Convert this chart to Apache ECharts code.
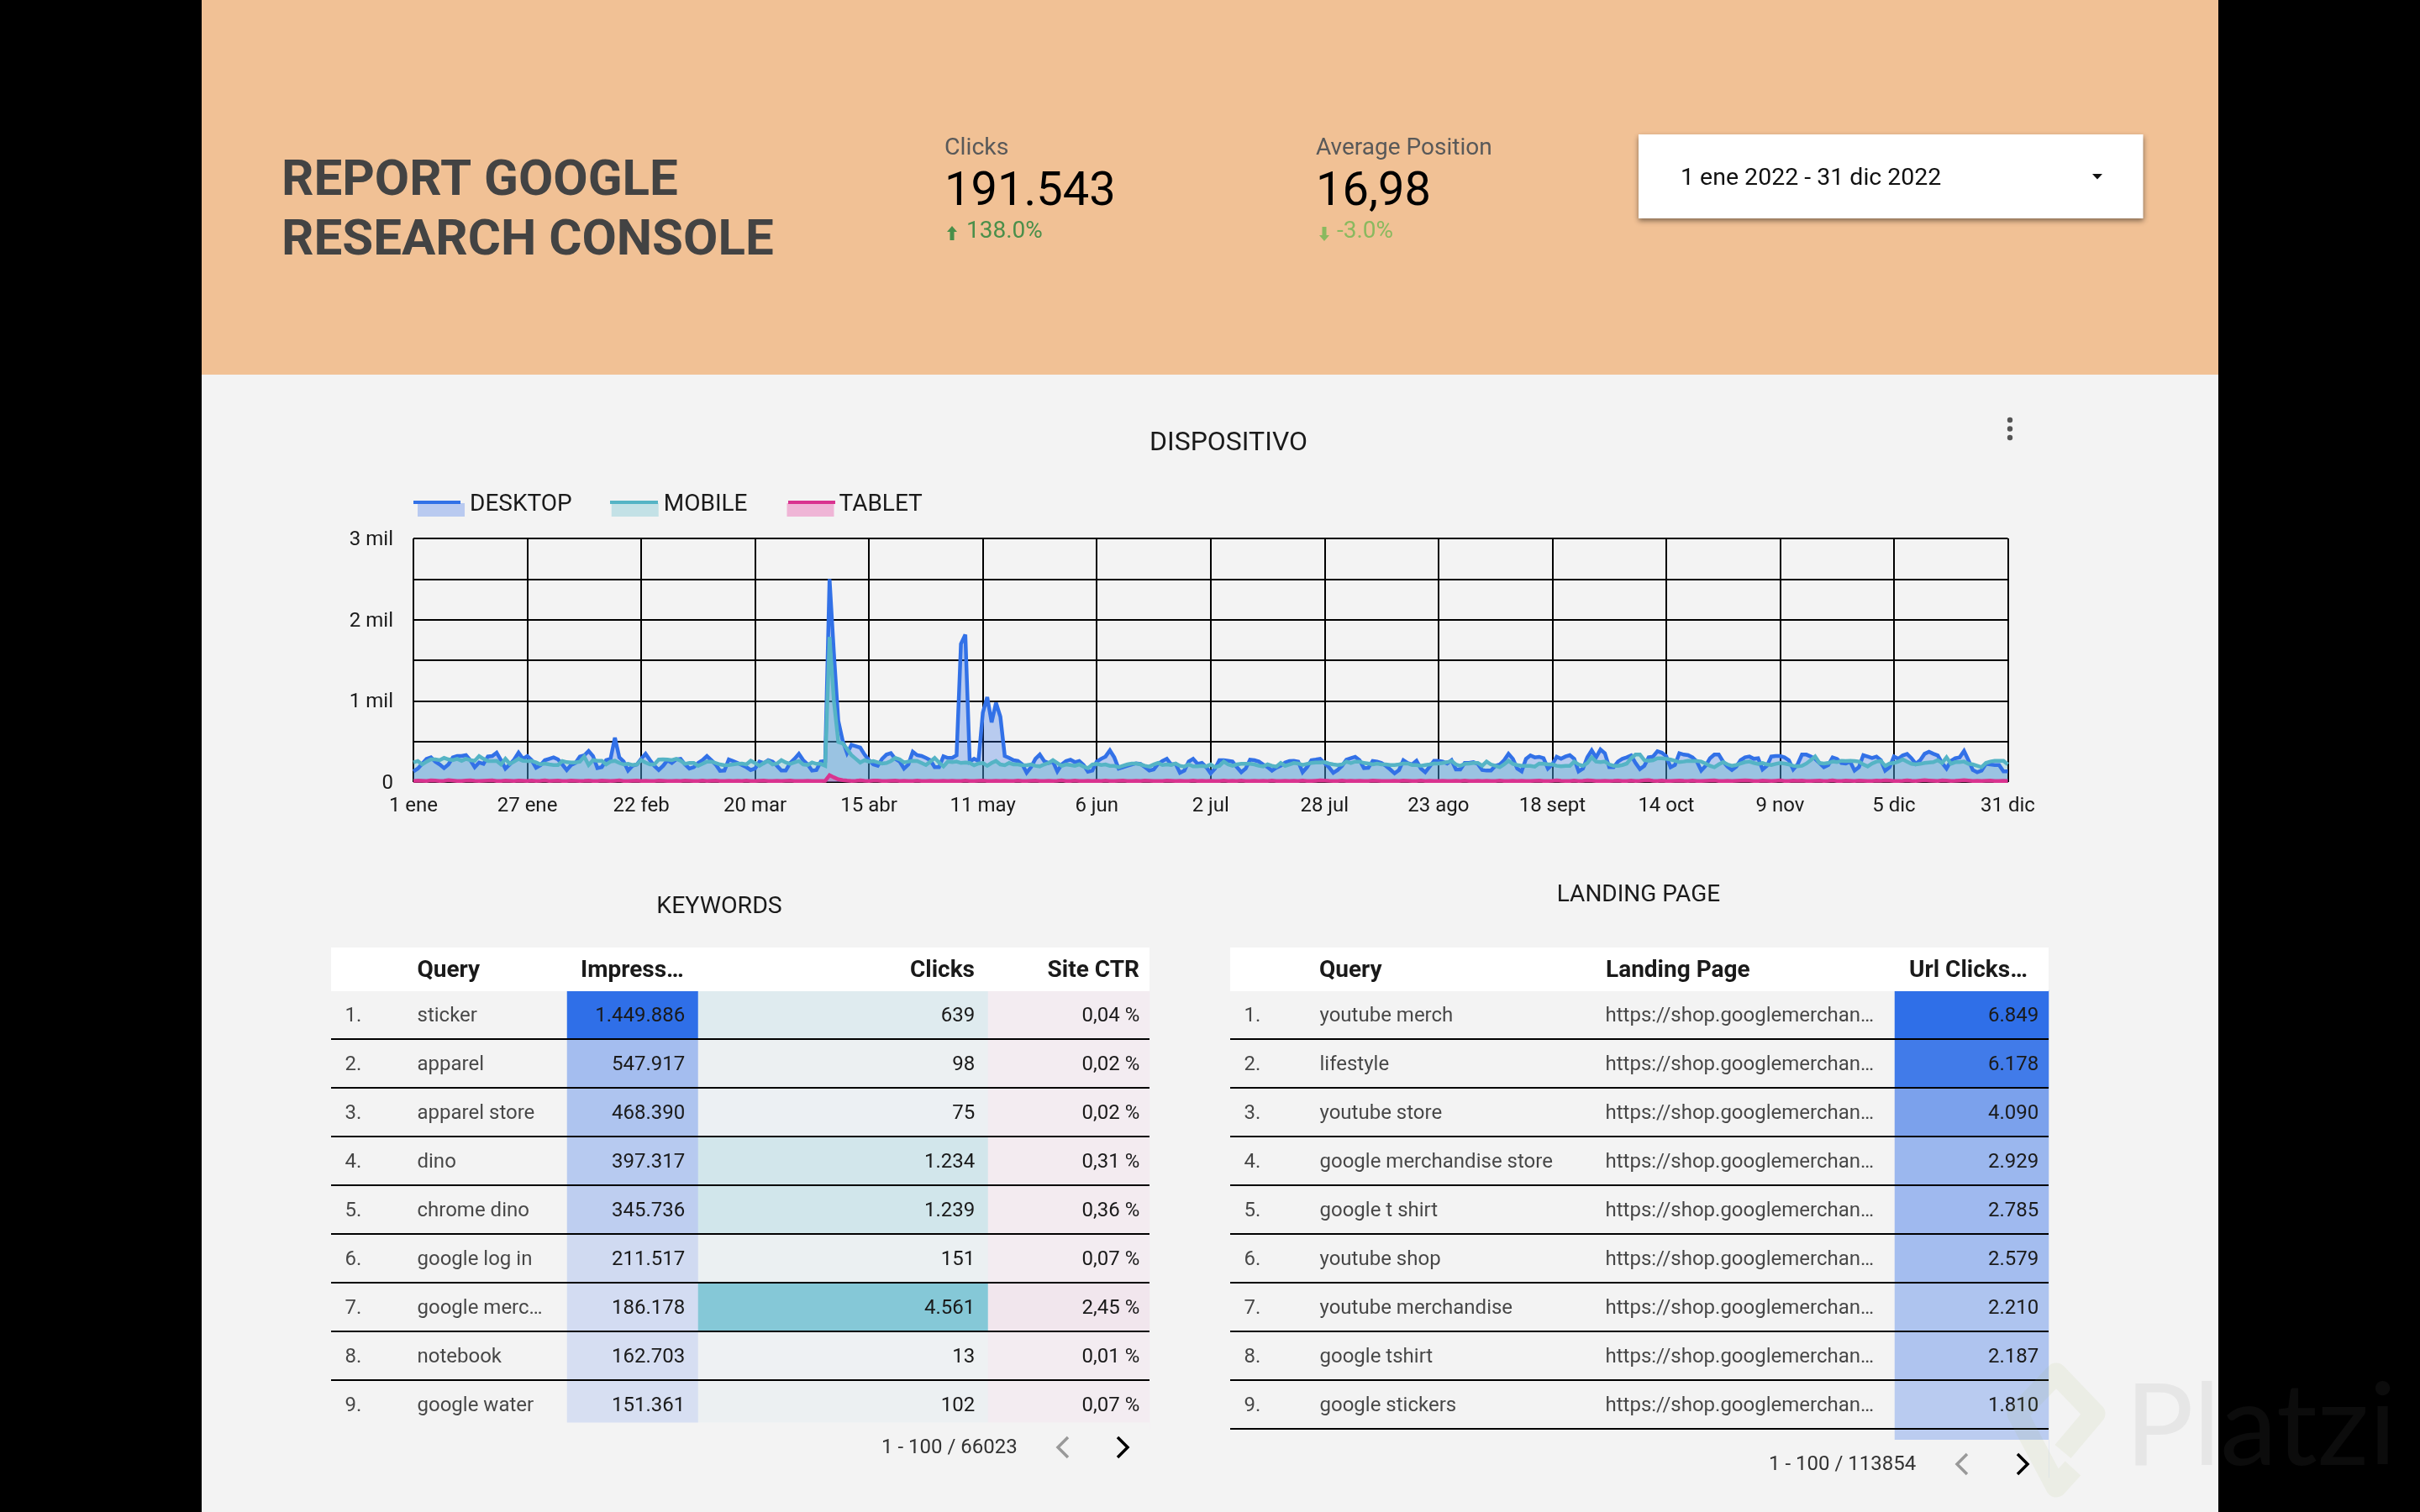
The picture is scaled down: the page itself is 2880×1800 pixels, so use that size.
<!DOCTYPE html>
<html>
<head>
<meta charset="utf-8">
<title>Report Google Research Console</title>
<script src="https://cdn.jsdelivr.net/npm/echarts@6/dist/echarts.min.js"></script>
<style>
html,body{margin:0;padding:0;background:#000}
#main{width:2880px;height:1800px}
</style>
</head>
<body>
<div id="main"></div>
<script>
// daily clicks per device
var desktop = [
131,166,224,286,304,252,217,172,217,304,320,320,331,269,183,241,224,314,320,362,
269,166,217,276,362,286,320,269,176,207,269,286,304,279,217,148,210,235,314,328,
383,320,172,183,269,286,545,304,252,141,200,217,286,348,270,200,148,200,269,235,
279,286,217,166,183,235,269,320,269,217,138,141,279,259,235,210,183,148,166,252,
235,269,252,200,141,141,235,286,348,269,217,141,148,252,259,2500,1580,752,510,355,
459,441,424,338,269,217,200,286,338,355,286,252,166,217,373,331,321,297,269,183,
183,317,297,297,328,1700,1815,252,286,259,855,1045,735,976,804,321,297,269,259,217,
114,183,286,338,259,235,252,131,217,259,276,245,259,210,128,141,252,286,314,390,
304,166,183,200,217,231,224,183,141,155,224,259,286,217,224,114,141,252,286,224,
235,183,107,166,269,269,262,252,183,121,166,276,269,252,217,183,141,176,200,241,
259,262,252,121,183,269,276,286,235,183,114,148,200,276,293,311,269,172,176,259,
252,235,200,155,107,148,269,235,217,262,166,121,190,262,262,252,228,269,155,155,
235,235,245,224,148,141,141,200,217,269,348,286,166,131,286,328,304,311,293,166,
217,311,286,314,331,286,131,166,304,390,304,400,355,183,183,252,286,304,328,235,
159,200,304,314,380,362,320,183,210,355,338,331,304,252,141,200,293,338,338,252,
190,148,190,269,304,314,286,293,155,200,314,320,320,304,269,155,217,338,338,314,
286,235,183,210,304,286,235,228,252,141,183,331,314,297,314,269,141,183,314,286,
328,345,293,224,269,348,373,348,328,235,166,259,293,304,383,269,148,121,141,224,
217,210,210,131,131
];
var mobile = [
241,259,217,252,279,279,269,297,279,269,286,262,286,269,262,320,286,259,259,262,
217,286,224,252,286,262,259,259,241,217,228,217,210,210,259,245,241,241,252,314,
210,269,262,262,217,252,262,235,217,224,210,217,269,241,217,217,276,279,276,269,
286,262,224,235,235,200,224,252,252,235,217,207,210,217,224,228,217,262,235,200,
235,259,217,228,269,241,224,241,259,217,210,241,224,224,200,1787,994,493,476,407,
331,286,241,269,252,259,241,228,235,259,297,279,241,252,262,259,235,210,252,297,
241,193,252,245,252,235,241,235,207,228,235,200,235,259,217,207,235,217,217,207,
207,217,200,193,217,235,269,235,200,217,210,200,217,190,172,217,224,210,217,200,
200,183,200,217,228,228,217,200,190,217,235,210,217,210,228,200,190,217,193,193,
200,193,217,183,200,252,217,200,217,224,224,224,217,200,193,217,200,190,235,200,
217,235,228,210,224,235,241,241,245,228,217,210,217,252,235,252,252,235,228,217,
228,217,217,210,210,217,228,228,210,210,200,210,217,228,228,235,245,259,217,200,
224,228,235,235,200,252,217,200,183,217,262,224,210,200,200,200,190,228,224,217,
217,200,193,200,200,252,217,200,235,304,252,245,252,217,200,200,210,228,293,338,
338,269,262,269,293,293,286,276,262,245,252,262,259,259,252,228,200,183,217,245,
217,200,210,228,245,252,235,224,235,217,210,224,235,228,217,200,193,200,228,269,
314,235,228,235,252,245,262,259,262,259,252,217,193,228,252,259,200,228,235,252,
279,252,224,217,224,235,241,245,269,235,304,224,245,245,252,224,217,200,183,235,
252,262,262,262,217
];
var tablet = [
14,18,15,12,20,17,13,16,22,18,14,12,19,21,16,13,15,18,20,14,
12,17,16,13,19,15,12,18,14,16,20,13,15,17,12,14,18,16,13,15,
19,14,12,17,15,13,16,20,14,12,15,18,13,16,14,12,17,15,13,14,
16,12,18,15,13,14,17,12,15,19,13,14,16,12,15,13,17,14,12,15,
18,13,14,16,12,15,17,13,14,12,15,13,14,12,15,85,58,34,24,18,
14,16,20,15,13,17,19,14,12,16,18,13,15,12,14,17,13,12,15,14,
12,16,13,15,12,14,17,13,12,15,18,14,12,16,13,15,12,14,17,13,
12,15,18,14,13,16,12,15,20,14,13,17,12,14,16,13,15,12,18,14,
12,15,17,13,14,16,12,18,15,13,14,12,17,15,13,16,12,14,18,13,
15,12,16,14,13,17,12,15,14,18,13,12,16,14,15,12,17,13,14,16,
12,15,13,18,14,12,16,21,19,15,13,14,17,12,15,13,16,14,12,18,
15,13,14,12,16,13,17,15,12,14,18,13,15,12,14,16,13,12,15,14,
17,12,13,15,14,16,12,13,18,14,12,15,13,16,14,12,15,17,13,14,
16,20,15,12,14,18,13,15,21,17,14,12,16,13,15,19,14,12,17,13,
15,20,22,16,13,18,14,12,16,19,15,13,17,14,12,15,18,20,14,13,
16,12,15,19,21,17,13,14,18,15,12,16,20,14,13,17,15,19,14,12,
16,18,13,15,20,14,12,17,15,13,19,16,14,12,18,15,21,17,13,14,
16,20,15,13,18,22,19,16,14,21,17,13,15,19,23,18,14,16,13,15,
17,14,13,15,14
];
var monthNames = ['ene','feb','mar','abr','may','jun','jul','ago','sept','oct','nov','dic'];
var monthDays = [31,28,31,30,31,30,31,31,30,31,30,31];
var days = [];
monthDays.forEach(function(n,m){
    for(var d=1;d<=n;d++){ days.push(d+' '+monthNames[m]); }
});

// tabla KEYWORDS
var kwQuery = ['sticker','apparel','apparel store','dino','chrome dino','google log in','google merc…','notebook','google water'];
var kwImpressions = [1449886,547917,468390,397317,345736,211517,186178,162703,151361];
var kwClicks = [639,98,75,1234,1239,151,4561,13,102];
var kwCtr = [0.04,0.02,0.02,0.31,0.36,0.07,2.45,0.01,0.07];
// tabla LANDING PAGE
var lpQuery = ['youtube merch','lifestyle','youtube store','google merchandise store','google t shirt','youtube shop','youtube merchandise','google tshirt','google stickers'];
var lpUrl = 'https://shop.googlemerchan…';
// the last value is row 10, of which only the colour shows
var lpClicks = [6849,6178,4090,2929,2785,2579,2210,2187,1810,1750];

var FONT = 'Roboto';
var TEXT = '#1a1a1a';
var BG = '#f3f3f3';
var BLUE = '#3271e7', TEAL = '#55b4c5', PINK = '#d9338f';

function fmtInt(v){ return String(v).replace(/\B(?=(\d{3})+$)/g,'.'); }
function fmtPct(v){ return v.toFixed(2).replace('.',',')+' %'; }

var grids=[], xAxes=[], yAxes=[], seriesList=[], visualMaps=[];

// one grid per table column, they all share the row height
function addGrid(left,width,rows){
    grids.push({left:left,width:width,top:1179,height:58*rows,containLabel:false});
    yAxes.push({type:'category',gridIndex:grids.length-1,inverse:true,show:false,data:new Array(rows).fill(0).map(function(a,i){return i+1})});
    return grids.length-1;
}
function heatColumn(left,width,rows,values,fmt,colors,pad){
    var g=addGrid(left,width,rows);
    xAxes.push({type:'category',gridIndex:g,show:false,data:['c']});
    visualMaps.push({show:false,type:'continuous',seriesIndex:seriesList.length,min:0,max:Math.max.apply(null,values),inRange:{color:colors}});
    seriesList.push({
        type:'heatmap',xAxisIndex:g,yAxisIndex:g,z:2,
        data:values.map(function(v,i){return [0,i,v]}),
        label:{show:true,position:'insideRight',distance:pad,offset:[0,2],fontFamily:FONT,fontSize:24,color:TEXT,
            formatter:function(p){return p.dataIndex<9?fmt(p.value[2]):''}},
        emphasis:{disabled:true}
    });
}
function textColumn(left,width,rows,labels,pad){
    var g=addGrid(left,width,rows);
    xAxes.push({type:'value',gridIndex:g,show:false,min:0,max:1});
    seriesList.push({
        type:'scatter',xAxisIndex:g,yAxisIndex:g,z:3,symbolSize:1,itemStyle:{color:'transparent'},
        data:labels.map(function(t,i){return {value:[0,i],name:t}}),
        label:{show:true,position:'right',distance:pad,offset:[0,2],fontFamily:FONT,fontSize:24,color:TEXT,
            formatter:function(p){return p.name}}
    });
}
function rowLines(left,width,rows){
    var g=addGrid(left,width,rows);
    xAxes.push({type:'value',gridIndex:g,show:false,min:0,max:1});
    yAxes[g].show=true;
    yAxes[g].z=5;
    yAxes[g].axisLine={show:false};
    yAxes[g].axisTick={show:false};
    yAxes[g].axisLabel={show:false};
    yAxes[g].splitLine={show:true,showMinLine:false,showMaxLine:false,lineStyle:{color:'#000',width:2}};
}

// grid 0 is the line chart
grids.push({left:492,top:641,width:1897.5,height:290});
xAxes.push({
    type:'category',gridIndex:0,boundaryGap:false,data:days,
    axisLine:{show:false},axisTick:{show:false},
    axisLabel:{interval:25,margin:17,fontFamily:FONT,fontSize:24,color:TEXT,hideOverlap:false},
    splitLine:{show:true,interval:25,lineStyle:{color:'#000',width:2}}
});
yAxes.push({
    type:'value',gridIndex:0,min:0,max:3000,interval:500,
    axisLine:{show:false},axisTick:{show:false},
    axisLabel:{margin:24,
        // rich padding moves the label a bit below its gridline
        rich:{t:{fontFamily:FONT,fontSize:24,color:TEXT,padding:[4,0,0,0]}},
        formatter:function(v){ if(v%1000){return ''} return '{t|'+(v?(v/1000)+' mil':'0')+'}'; }},
    splitLine:{show:true,lineStyle:{color:'#000',width:2}}
});
function lineSeries(name,data,color,clip){
    return {name:name,type:'line',xAxisIndex:0,yAxisIndex:0,data:data,z:3,clip:clip,
        showSymbol:false,symbol:'none',lineStyle:{color:color,width:4.5,join:'miter',miterLimit:3},
        itemStyle:{color:color},areaStyle:{color:color,opacity:0.3}};
}
seriesList.push(lineSeries('DESKTOP',desktop,BLUE,true));
seriesList.push(lineSeries('MOBILE',mobile,TEAL,true));
seriesList.push(lineSeries('TABLET',tablet,PINK,false));

// KEYWORDS columns
textColumn(394,100,9,kwQuery.map(function(q,i){return (i+1)+'.'}),16);
textColumn(480,190,9,kwQuery,16);
heatColumn(675,156,9,kwImpressions,fmtInt,['#ebecf3','#2f6fe8'],16);
heatColumn(831,345,9,kwClicks,fmtInt,['#eef1f3','#85c8d7'],16);
heatColumn(1176,192,9,kwCtr,fmtPct,['#f3ecf1','#f1e6ed'],12);
rowLines(394,974,9);
// LANDING PAGE columns
textColumn(1464,100,9,lpQuery.map(function(q,i){return (i+1)+'.'}),16);
textColumn(1555,340,9,lpQuery,15);
textColumn(1895,360,9,lpQuery.map(function(){return lpUrl}),15);
heatColumn(2255,183,10,lpClicks,fmtInt,['#ebecf3','#2f6fe8'],12);
rowLines(1464,974,10);

function txt(x,y,text,size,color,o){
    o=o||{};
    return {type:'text',z:o.z||30,x:x,y:y,style:{text:text,fontFamily:FONT,fontSize:size,fontWeight:o.weight||'normal',
        fill:color,align:o.align||'left',verticalAlign:'middle'}};
}
function box(x,y,w,h,fill,z,extra){
    return {type:'rect',z:z,shape:{x:x,y:y,width:w,height:h},style:Object.assign({fill:fill},extra||{})};
}
function chevron(x,y,dir,color){
    return {type:'polyline',z:30,shape:{points:[[x-dir*6,y-12],[x+dir*6,y],[x-dir*6,y+12]]},style:{stroke:color,lineWidth:3.5,fill:null}};
}
function arrow(x,y,dir,color){
    // little arrow next to the score card delta
    return {type:'polygon',z:30,shape:{points:[[x,y-dir*9],[x+6,y-dir*2],[x+2.5,y-dir*2],[x+2.5,y+dir*8],[x-2.5,y+dir*8],[x-2.5,y-dir*2],[x-6,y-dir*2]]},style:{fill:color}};
}

var graphics=[
    box(240,0,2400,446,'#f1c195',-2),
    box(240,446,2400,1354,BG,-2),
    // header
    txt(335,217,'REPORT GOOGLE',60,'#434343',{weight:'bold'}),
    txt(335,288,'RESEARCH CONSOLE',60,'#434343',{weight:'bold'}),
    txt(1124,177,'Clicks',28.5,'#595959'),
    txt(1124,230,'191.543',56,'#000'),
    arrow(1133,278,1,'#4a8f4a'),
    txt(1150,276,'138.0%',28,'#4a8f4a'),
    txt(1566,177,'Average Position',28,'#595959'),
    txt(1566,230,'16,98',56,'#000'),
    arrow(1576,278,-1,'#8ab95f'),
    txt(1591,276,'-3.0%',28,'#8ab95f'),
    box(1950,160,600.5,100,'#fff',1,{shadowBlur:6,shadowOffsetY:3,shadowColor:'rgba(0,0,0,0.45)'}),
    txt(2000,213,'1 ene 2022 - 31 dic 2022',28.5,'#111'),
    {type:'polygon',z:30,shape:{points:[[2490,207],[2502,207],[2496,213.5]]},style:{fill:'#111'}},
    // line chart
    txt(1462,528,'DISPOSITIVO',32,TEXT,{align:'center'}),
    {type:'circle',z:30,shape:{cx:2392,cy:500,r:3.2},style:{fill:'#555'}},
    {type:'circle',z:30,shape:{cx:2392,cy:510.5,r:3.2},style:{fill:'#555'}},
    {type:'circle',z:30,shape:{cx:2392,cy:521,r:3.2},style:{fill:'#555'}},
    box(492,596,56,4,BLUE,30),
    box(726,596,57,4,TEAL,30),
    box(938,596,56,4,PINK,30),
    // table titles and headers
    txt(856,1080,'KEYWORDS',28.5,TEXT,{align:'center'}),
    txt(1950,1066,'LANDING PAGE',28,TEXT,{align:'center'}),
    box(394,1128,974,52,'#fff',20),
    box(1464,1128,974,52,'#fff',20),
    txt(496.5,1156,'Query',28,TEXT,{weight:'bold'}),
    txt(691,1156,'Impress…',28,TEXT,{weight:'bold'}),
    txt(1160,1156,'Clicks',28,TEXT,{weight:'bold',align:'right'}),
    txt(1356,1156,'Site CTR',28,TEXT,{weight:'bold',align:'right'}),
    txt(1570,1156,'Query',28,TEXT,{weight:'bold'}),
    txt(1911,1156,'Landing Page',28,TEXT,{weight:'bold'}),
    txt(2272,1156,'Url Clicks…',28,TEXT,{weight:'bold'}),
    // the last rows are cut off by the table edge
    box(394,1693.5,974,20,BG,20),
    box(1464,1714,974,60,BG,20),
    // pagers
    txt(1049,1724,'1 - 100 / 66023',24,'#333'),
    chevron(1265,1723,-1,'#999'),
    chevron(1336,1723,1,'#000'),
    txt(2105,1744,'1 - 100 / 113854',24,'#333'),
    chevron(2335,1743,-1,'#999'),
    chevron(2407,1743,1,'#000'),
    // watermark
    {type:'polyline',z:60,shape:{points:[[2455,1728],[2493,1683],[2447,1635],[2401,1683],[2447,1770],[2467,1748]]},
        style:{stroke:'rgba(150,180,90,0.09)',lineWidth:25,lineJoin:'round',fill:null}},
    {type:'text',z:60,x:2529,y:1700,style:{text:'Platzi',fontFamily:'Lato',fontSize:136,fill:'rgba(117,117,117,0.1)',align:'left',verticalAlign:'middle'}}
];

var chart = echarts.init(document.getElementById('main'));
chart.setOption({
    animation:false,
    backgroundColor:'#000',
    textStyle:{fontFamily:FONT},
    legend:{
        left:492,top:582,itemWidth:56,itemHeight:16,itemGap:47,selectedMode:false,
        formatter:'{t|{name}}',
        // bottom padding keeps the text higher than the legend swatch
        textStyle:{rich:{t:{fontFamily:FONT,fontSize:28,color:TEXT,padding:[0,0,12,1]}}},
        data:[
            {name:'DESKTOP',icon:'rect',itemStyle:{color:'#b9caf0'},lineStyle:{opacity:0,color:'rgba(0,0,0,0)'}},
            {name:'MOBILE',icon:'rect',itemStyle:{color:'#c3e1e6'},lineStyle:{opacity:0,color:'rgba(0,0,0,0)'}},
            {name:'TABLET',icon:'rect',itemStyle:{color:'#efb5d6'},lineStyle:{opacity:0,color:'rgba(0,0,0,0)'}}
        ]
    },
    grid:grids,xAxis:xAxes,yAxis:yAxes,
    visualMap:visualMaps,
    series:seriesList,
    graphic:{elements:graphics}
});
</script>
</body>
</html>
